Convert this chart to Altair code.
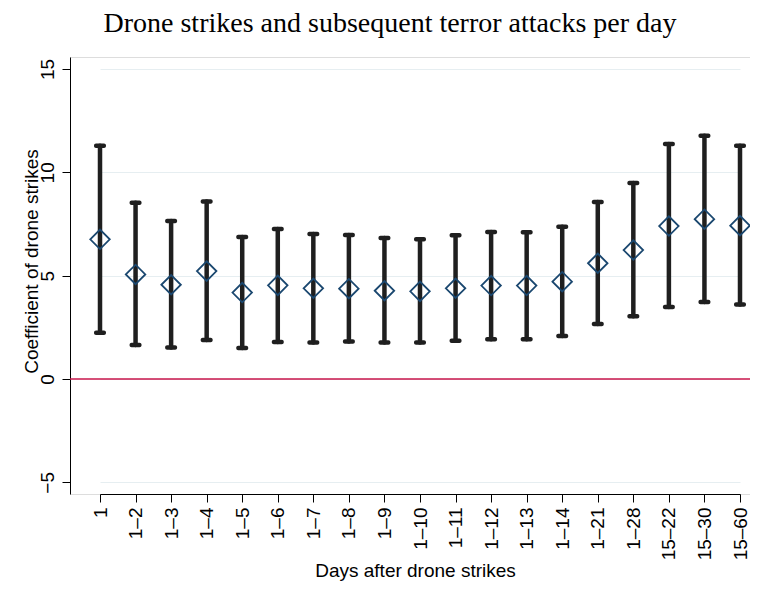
import altair as alt
import pandas as pd

labels = ["1", "1–2", "1–3", "1–4", "1–5", "1–6", "1–7", "1–8", "1–9", "1–10",
          "1–11", "1–12", "1–13", "1–14", "1–21", "1–28", "15–22", "15–30", "15–60"]
coef = [6.76, 5.06, 4.56, 5.22, 4.18, 4.53, 4.39, 4.37, 4.27, 4.24,
        4.39, 4.52, 4.52, 4.71, 5.60, 6.24, 7.40, 7.73, 7.42]
lower = [2.24, 1.64, 1.52, 1.89, 1.50, 1.79, 1.77, 1.82, 1.77, 1.76,
         1.85, 1.92, 1.92, 2.08, 2.66, 3.03, 3.48, 3.73, 3.60]
upper = [11.29, 8.53, 7.64, 8.59, 6.87, 7.26, 7.02, 6.97, 6.82, 6.76,
         6.95, 7.11, 7.10, 7.37, 8.56, 9.48, 11.37, 11.77, 11.29]
y_ticks = [-5, 0, 5, 10, 15]

df = pd.DataFrame({"label": labels, "coef": coef, "lower": lower, "upper": upper})

SANS = "Liberation Sans"
FS = 19

x_scale = alt.Scale(type="point", range=[30, 670], padding=0)
x_enc = alt.X(
    "label:N", sort=labels, scale=x_scale,
    axis=alt.Axis(
        title="Days after drone strikes",
        labelAngle=-90, labelAlign="right", labelBaseline="middle",
        labelFont=SANS, labelFontSize=FS, labelColor="black", labelPadding=5,
        tickSize=8, tickColor="black", tickWidth=1,
        domainColor="black", domainWidth=1, grid=False,
        titleFont=SANS, titleFontSize=FS, titleFontWeight="normal", titleColor="black",
        titleBaseline="alphabetic", titleY=82, titleX=345, titleAlign="center",
        labelOverlap=False,
    ),
)

y_scale = alt.Scale(domain=[-5.565, 15.58], nice=False, zero=False)
y_axis = alt.Axis(
    title="Coefficient of drone strikes", values=y_ticks,
    labelAngle=-90, labelAlign="center", labelBaseline="alphabetic",
    labelFont=SANS, labelFontSize=FS, labelColor="black", labelPadding=9,
    tickSize=8, tickColor="black", tickWidth=1,
    domainColor="black", domainWidth=1,
    grid=True, gridColor="#e6eef1", gridWidth=1,
    titleFont=SANS, titleFontSize=FS, titleFontWeight="normal", titleColor="black",
    titleAngle=-90, titleBaseline="alphabetic", titleAlign="center",
    titleX=-33, titleY=204, labelOverlap=False,
)

base = alt.Chart(df)

bars = base.mark_rule(color="#1f1f1f", strokeWidth=4.5, strokeCap="round").encode(
    x=x_enc,
    y=alt.Y("lower:Q", scale=y_scale, axis=y_axis),
    y2="upper:Q",
)
cap_lo = base.mark_tick(color="#1f1f1f", size=12, thickness=4.5, cornerRadius=2, opacity=1).encode(
    x=alt.X("label:N", sort=labels), y=alt.Y("lower:Q"))
cap_hi = base.mark_tick(color="#1f1f1f", size=12, thickness=4.5, cornerRadius=2, opacity=1).encode(
    x=alt.X("label:N", sort=labels), y=alt.Y("upper:Q"))

zero = alt.Chart(pd.DataFrame({"v": [0]})).mark_rule(color="#c8164b", strokeWidth=1.6).encode(
    y=alt.Y("v:Q"))

pts = base.mark_point(shape="diamond", size=380, filled=False, color="#1a476f",
                      strokeWidth=1.8, opacity=1).encode(
    x=alt.X("label:N", sort=labels), y=alt.Y("coef:Q"))

chart = alt.layer(zero, bars, cap_lo, cap_hi, pts).properties(
    width=680, height=437,
    title=alt.TitleParams(
        "Drone strikes and subsequent terror attacks per day",
        font="Liberation Serif", fontSize=28, fontWeight="normal", color="black",
        anchor="middle", dx=-20, dy=33, offset=30, baseline="alphabetic",
    ),
    autosize=alt.AutoSizeParams(type="none"),
    padding={"left": 62, "top": 49, "right": 0, "bottom": 87},
).configure_view(stroke=None).configure(background="white")

chart.save("out.html", embed_options={"renderer": "svg", "actions": False})
